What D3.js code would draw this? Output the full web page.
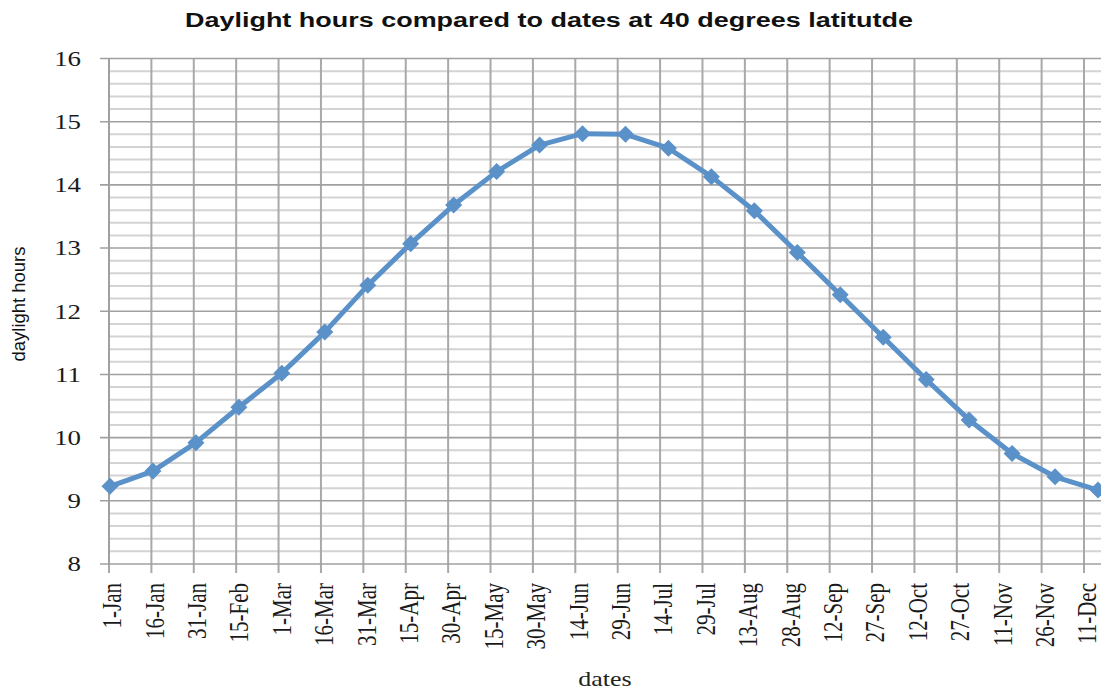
<!DOCTYPE html>
<html>
<head>
<meta charset="utf-8">
<script src="https://cdn.jsdelivr.net/npm/d3@7"></script>
<style>
  html, body { margin: 0; padding: 0; background: #fff; }
  svg { display: block; }
</style>
</head>
<body>
<svg id="chart" width="1101" height="690"></svg>
<script>
// ---- data ----
const dates = ["1-Jan","16-Jan","31-Jan","15-Feb","1-Mar","16-Mar","31-Mar","15-Apr","30-Apr","15-May","30-May","14-Jun",
               "29-Jun","14-Jul","29-Jul","13-Aug","28-Aug","12-Sep","27-Sep","12-Oct","27-Oct","11-Nov","26-Nov","11-Dec"];
const daylightHours = [9.23, 9.47, 9.92, 10.48, 11.02, 11.67, 12.41, 13.07, 13.68, 14.21, 14.63, 14.81,
                       14.80, 14.58, 14.13, 13.59, 12.93, 12.26, 11.59, 10.92, 10.28, 9.75, 9.38, 9.17];
const yTickValues = [8, 9, 10, 11, 12, 13, 14, 15, 16];
const yMinorValues = d3.range(8, 16.001, 0.2).filter(v => Math.abs(v - Math.round(v)) > 1e-6);
const titleText = "Daylight hours compared to dates at 40 degrees latitutde";
const yTitle = "daylight hours";
const xTitle = "dates";

// ---- layout ----
const W = 1101, H = 690;
const svg = d3.select("#chart");
const plotLeft = 109, plotBottom = 564, plotTop = 58.5;
const sx = 1.3; // horizontal stretch of the original picture

const y = d3.scaleLinear().domain([8, 16]).range([plotBottom, plotTop]);
const xAxisScale = d3.scalePoint().domain(dates).range([plotLeft, 1084]);
const xLine = d3.scalePoint().domain(dates).range([110, 1098]);

// minor horizontal gridlines
svg.append("g").selectAll("line").data(yMinorValues).join("line")
  .attr("x1", plotLeft).attr("x2", W)
  .attr("y1", d => y(d)).attr("y2", d => y(d))
  .attr("stroke", "#d3d3d3").attr("stroke-width", 2);

// vertical gridlines + x ticks
svg.append("g").selectAll("line").data(dates).join("line")
  .attr("x1", d => xAxisScale(d)).attr("x2", d => xAxisScale(d))
  .attr("y1", plotTop).attr("y2", plotBottom + 9)
  .attr("stroke", "#a9a9a9").attr("stroke-width", 2);

// major horizontal gridlines + y ticks
svg.append("g").selectAll("line").data(yTickValues).join("line")
  .attr("x1", plotLeft - 9).attr("x2", W)
  .attr("y1", d => y(d)).attr("y2", d => y(d))
  .attr("stroke", "#a0a0a0").attr("stroke-width", 1.6);

// y axis line
svg.append("line").attr("x1", plotLeft).attr("x2", plotLeft)
  .attr("y1", plotTop).attr("y2", plotBottom)
  .attr("stroke", "#a0a0a0").attr("stroke-width", 2);

// y tick labels
svg.append("g").selectAll("text").data(yTickValues).join("text")
  .attr("transform", d => `translate(81,${y(d)}) scale(1.25,1)`)
  .attr("text-anchor", "end").attr("dy", "0.34em")
  .attr("font-family", "'Liberation Serif', 'DejaVu Serif', serif")
  .attr("font-size", 21.5).attr("fill", "#1a1a1a")
  .text(d => d);

// x tick labels
svg.append("g").selectAll("text").data(dates).join("text")
  .attr("transform", d => `translate(${xAxisScale(d) + 3},583) scale(${sx},1) rotate(-90)`)
  .attr("text-anchor", "end").attr("dy", "0.34em")
  .attr("font-family", "'Liberation Serif', 'DejaVu Serif', serif")
  .attr("font-size", 21).attr("fill", "#1a1a1a")
  .text(d => d);

// line
const line = d3.line().x((d, i) => xLine(dates[i])).y(d => y(d));
svg.append("path").datum(daylightHours)
  .attr("d", line).attr("fill", "none")
  .attr("stroke", "#5b91c9").attr("stroke-width", 5)
  .attr("stroke-linejoin", "round");

// markers (diamonds)
const sym = d3.symbol().type(d3.symbolSquare).size(145);
svg.append("g").selectAll("path").data(daylightHours).join("path")
  .attr("d", sym)
  .attr("transform", (d, i) => `translate(${xLine(dates[i])},${y(d)}) rotate(45)`)
  .attr("fill", "#5b91c9");

// title
svg.append("text")
  .attr("x", 549).attr("y", 27)
  .attr("text-anchor", "middle")
  .attr("font-family", "'Liberation Sans', Arial, sans-serif")
  .attr("font-weight", "bold").attr("font-size", 20).attr("fill", "#111")
  .attr("textLength", 728).attr("lengthAdjust", "spacingAndGlyphs")
  .text(titleText);

// y title
svg.append("text")
  .attr("transform", "translate(25,304) rotate(-90)")
  .attr("text-anchor", "middle")
  .attr("font-family", "'Liberation Sans', Arial, sans-serif")
  .attr("font-size", 19).attr("fill", "#111")
  .attr("textLength", 115).attr("lengthAdjust", "spacingAndGlyphs")
  .text(yTitle);

// x title
svg.append("text")
  .attr("transform", "translate(605,686) scale(1.3,1)")
  .attr("text-anchor", "middle")
  .attr("font-family", "'Liberation Serif', 'DejaVu Serif', serif")
  .attr("font-size", 20).attr("fill", "#222")
  .text(xTitle);
</script>
</body>
</html>
